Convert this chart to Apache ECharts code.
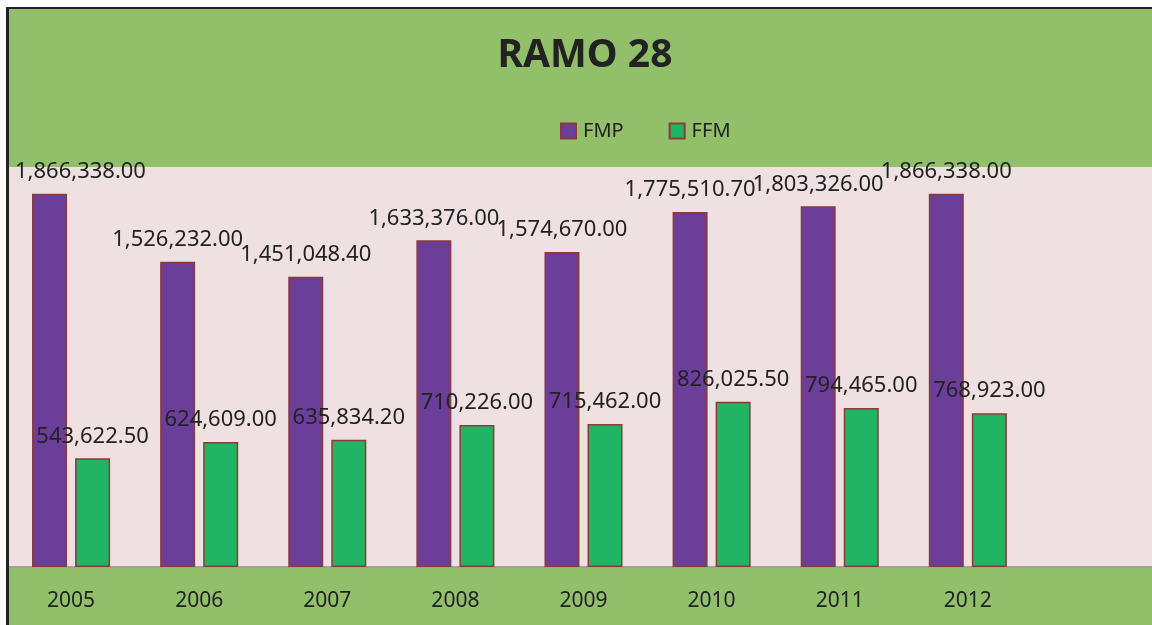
<!DOCTYPE html>
<html>
<head>
<meta charset="UTF-8">
<title>RAMO 28</title>
<style>
    body{margin:0;background:#fff;overflow:hidden;}
    #box{
        position:absolute;
        left:7px;
        top:9px;
        width:1153px;
        height:616px;
    }
    #marco{
        position:absolute;
        left:6px;
        top:7px;
        width:1150px;
        height:620px;
        border-top:2px solid #222;
        border-left:3px solid #222;
        pointer-events:none;
    }
</style>
<script src="https://cdn.jsdelivr.net/npm/echarts@6/dist/echarts.min.js"></script>
</head>
<body>
<div id="box"></div>
<div id="marco"></div>
<script>
    // datos
    var years = ['2005','2006','2007','2008','2009','2010','2011','2012',''];
    var fmp = [1866338.00, 1526232.00, 1451048.40, 1633376.00, 1574670.00, 1775510.70, 1803326.00, 1866338.00];
    var ffm = [543622.50, 624609.00, 635834.20, 710226.00, 715462.00, 826025.50, 794465.00, 768923.00];

    var fuente = '"Noto Sans", sans-serif';
    function fmt(p){
        return Number(p.value).toLocaleString('en-US', {minimumFractionDigits:2, maximumFractionDigits:2});
    }
    function etiqueta(){
        return {
            show:true,
            position:'top',
            distance:11,
            color:'#222',
            fontSize:22,
            fontFamily:fuente,
            formatter:fmt
        };
    }

    var myChart = echarts.init(document.getElementById('box'));
    var option = {
        backgroundColor:'#92bf6a',
        animation:false,
        title:{
            text:'RAMO 28',
            left:573,
            textAlign:'center',
            top:22,
            textStyle:{
                color:'#222',
                fontSize:39,
                fontWeight:'bold',
                fontFamily:fuente
            }
        },
        legend:{
            data:['FMP','FFM'],
            left:548,
            top:107,
            itemWidth:15,
            itemHeight:15,
            itemGap:45,
            icon:'rect',
            textStyle:{color:'#222', fontSize:20, fontFamily:fuente, padding:[0,0,0,2]}
        },
        grid:{
            left:0,
            width:1153,
            top:158,
            height:400,
            show:true,
            backgroundColor:'#efe1e1',
            borderWidth:0
        },
        xAxis:{
            type:'category',
            data:years,
            axisLine:{lineStyle:{color:'#a0a0a0', width:2}},
            axisTick:{show:false},
            axisLabel:{
                color:'#222',
                fontSize:21,
                fontFamily:fuente,
                margin:24,
                interval:0
            }
        },
        yAxis:{
            type:'value',
            min:0,
            max:2000000,
            show:false,
            splitLine:{show:false}
        },
        series:[
            {
                name:'FMP',
                type:'bar',
                barWidth:35,
                barGap:'23%',
                data:fmp,
                itemStyle:{color:'#6b3f99', borderColor:'#8c3a3a', borderWidth:1.5},
                label:etiqueta(),
                labelLayout:function(p){
                    // mantener la etiqueta dentro del área
                    if (p.labelRect.x < 8) {
                        return {x:8, y:p.labelRect.y, align:'left', verticalAlign:'top'};
                    }
                    return {};
                }
            },
            {
                name:'FFM',
                type:'bar',
                barWidth:35,
                data:ffm,
                itemStyle:{color:'#20b463', borderColor:'#8c3a3a', borderWidth:1.5},
                label:etiqueta()
            }
        ]
    };
    myChart.setOption(option);
</script>
</body>
</html>
